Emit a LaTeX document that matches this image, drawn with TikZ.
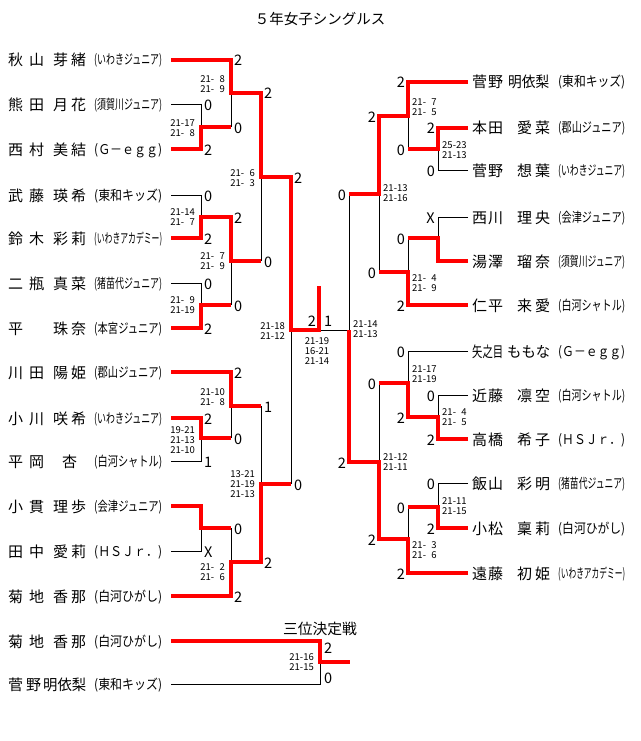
\documentclass[tikz,border=0pt]{standalone}
\usepackage{fontspec}
\setmainfont{Noto Sans CJK JP}
\usepackage{graphicx}
\newcommand\gs{\hphantom{0}}
\newcommand\lname[4]{\makebox[36pt][s]{#1\hfill#2}\hspace{9pt}\makebox[33pt][s]{#3\hfill#4}}
\newcommand\rname[4]{\makebox[31pt][s]{#1\hfill#2}\hspace{14pt}\makebox[33pt][s]{#3\hfill#4}}
\newcommand\lteam[1]{\resizebox{68pt}{\height}{#1}}
\newcommand\rteam[1]{\resizebox{67pt}{\height}{#1}}
\tikzset{
  win/.style={draw=red, line width=3.5pt},
  lose/.style={draw=black, line width=1pt},
  pname/.style={anchor=base west, inner sep=0, font=\fontsize{15}{15}\selectfont},
  team/.style={anchor=base west, inner sep=0, font=\fontsize{13.5}{14}\selectfont},
  lsc/.style={anchor=base west, inner sep=0, font=\fontsize{14.5}{15}\selectfont},
  rsc/.style={anchor=base east, inner sep=0, font=\fontsize{14.5}{15}\selectfont},
  lgame/.style={anchor=east, inner sep=0, align=right, font=\fontsize{9.5}{10}\selectfont},
  rgame/.style={anchor=west, inner sep=0, align=left, font=\fontsize{9.5}{10}\selectfont},
}
\begin{document}
\begin{tikzpicture}[x=1pt, y=-1pt]
    \fill[white] (0,0) rectangle (640,741);
    \useasboundingbox (0,0) rectangle (640,741);
    \node[anchor=base, inner sep=0, font=\fontsize{14.5}{15}\selectfont] (title) at (320,24.5) {５年女子シングルス};

    % left block
    \node[pname] (nl1) at (8,66) {\lname{秋}{山}{芽}{緒}};
    \node[team] (tl1) at (94,65) {\lteam{(いわきジュニア)}};
    \node[pname] (nl2) at (8,111) {\lname{熊}{田}{月}{花}};
    \node[team] (tl2) at (94,110) {\lteam{(須賀川ジュニア)}};
    \node[pname] (nl3) at (8,155) {\lname{西}{村}{美}{結}};
    \node[team] (tl3) at (94,154) {\lteam{(Ｇ－ｅｇｇ)}};
    \node[pname] (nl4) at (8,201) {\lname{武}{藤}{瑛}{希}};
    \node[team] (tl4) at (94,200) {\lteam{(東和キッズ)}};
    \node[pname] (nl5) at (8,244) {\lname{鈴}{木}{彩}{莉}};
    \node[team] (tl5) at (94,243) {\lteam{(いわきアカデミー)}};
    \node[pname] (nl6) at (8,289) {\lname{二}{瓶}{真}{菜}};
    \node[team] (tl6) at (94,288) {\lteam{(猪苗代ジュニア)}};
    \node[pname] (nl7) at (8,334) {\lname{平}{}{珠}{奈}};
    \node[team] (tl7) at (94,333) {\lteam{(本宮ジュニア)}};
    \node[pname] (nl8) at (8,378) {\lname{川}{田}{陽}{姫}};
    \node[team] (tl8) at (94,377) {\lteam{(郡山ジュニア)}};
    \node[pname] (nl9) at (8,424) {\lname{小}{川}{咲}{希}};
    \node[team] (tl9) at (94,423) {\lteam{(いわきジュニア)}};
    \node[pname] (nl10) at (8,467) {\lname{平}{岡}{\hfill{}杏}{}};
    \node[team] (tl10) at (94,466) {\lteam{(白河シャトル)}};
    \node[pname] (nl11) at (8,512) {\lname{小}{貫}{理}{歩}};
    \node[team] (tl11) at (94,511) {\lteam{(会津ジュニア)}};
    \node[pname] (nl12) at (8,557) {\lname{田}{中}{愛}{莉}};
    \node[team] (tl12) at (94,556) {\lteam{(ＨＳＪｒ．)}};
    \node[pname] (nl13) at (8,602) {\lname{菊}{地}{香}{那}};
    \node[team] (tl13) at (94,601) {\lteam{(白河ひがし)}};

    % right block
    \node[pname] (nr1) at (472,88) {\makebox[31pt][s]{菅\hfill{}野}\hspace{5pt}\resizebox{41pt}{\height}{明依梨}};
    \node[team] (tr1) at (558,87) {\rteam{(東和キッズ)}};
    \node[pname] (nr2) at (472,134) {\rname{本}{田}{愛}{菜}};
    \node[team] (tr2) at (558,133) {\rteam{(郡山ジュニア)}};
    \node[pname] (nr3) at (472,176) {\rname{菅}{野}{想}{葉}};
    \node[team] (tr3) at (558,175) {\rteam{(いわきジュニア)}};
    \node[pname] (nr4) at (472,223) {\rname{西}{川}{理}{央}};
    \node[team] (tr4) at (558,222) {\rteam{(会津ジュニア)}};
    \node[pname] (nr5) at (472,267) {\rname{湯}{澤}{瑠}{奈}};
    \node[team] (tr5) at (558,266) {\rteam{(須賀川ジュニア)}};
    \node[pname] (nr6) at (472,311) {\rname{仁}{平}{来}{愛}};
    \node[team] (tr6) at (558,310) {\rteam{(白河シャトル)}};
    \node[pname] (nr7) at (472,357) {\resizebox{31pt}{\height}{矢之目}\hspace{4pt}\resizebox{43pt}{\height}{ももな}};
    \node[team] (tr7) at (558,356) {\rteam{(Ｇ－ｅｇｇ)}};
    \node[pname] (nr8) at (472,401) {\rname{近}{藤}{凛}{空}};
    \node[team] (tr8) at (558,400) {\rteam{(白河シャトル)}};
    \node[pname] (nr9) at (472,445) {\rname{高}{橋}{希}{子}};
    \node[team] (tr9) at (558,444) {\rteam{(ＨＳＪｒ．)}};
    \node[pname] (nr10) at (472,489) {\rname{飯}{山}{彩}{明}};
    \node[team] (tr10) at (558,488) {\rteam{(猪苗代ジュニア)}};
    \node[pname] (nr11) at (472,534) {\rname{小}{松}{稟}{莉}};
    \node[team] (tr11) at (558,533) {\rteam{(白河ひがし)}};
    \node[pname] (nr12) at (472,579) {\rname{遠}{藤}{初}{姫}};
    \node[team] (tr12) at (558,578) {\rteam{(いわきアカデミー)}};

    % third place
    \node[anchor=base, inner sep=0, font=\fontsize{14.8}{15}\selectfont] (third) at (320,634.5) {三位決定戦};
    \node[pname] (nt1) at (8,647) {\lname{菊}{地}{香}{那}};
    \node[team] (tt1) at (94,646) {\lteam{(白河ひがし)}};
    \node[pname] (nt2) at (8,690) {\makebox[33pt][s]{菅\hfill{}野}\hspace{2pt}\resizebox{43pt}{\height}{明依梨}};
    \node[team] (tt2) at (94,689) {\lteam{(東和キッズ)}};

    % losers
    \draw[lose] (171,105) -- (201,105) -- (201,127);
    \draw[lose] (231,93) -- (231,127);
    \draw[lose] (171,195) -- (201,195) -- (201,217);
    \draw[lose] (171,283) -- (201,283) -- (201,305);
    \draw[lose] (231,261) -- (231,305);
    \draw[lose] (261,177) -- (261,261);
    \draw[lose] (171,461) -- (201,461) -- (201,438);
    \draw[lose] (231,406) -- (231,438);
    \draw[lose] (171,551) -- (201,551) -- (201,528);
    \draw[lose] (231,528) -- (231,562);
    \draw[lose] (261,406) -- (261,484);
    \draw[lose] (291,330) -- (291,484);
    \draw[lose] (319,330) -- (349,330);
    \draw[lose] (468,170) -- (438,170) -- (438,149);
    \draw[lose] (408,116) -- (408,149);
    \draw[lose] (468,217) -- (438,217) -- (438,238);
    \draw[lose] (408,238) -- (408,272);
    \draw[lose] (379,194) -- (379,272);
    \draw[lose] (468,351) -- (408,351) -- (408,383);
    \draw[lose] (468,395) -- (438,395) -- (438,417);
    \draw[lose] (468,483) -- (438,483) -- (438,507);
    \draw[lose] (408,507) -- (408,539);
    \draw[lose] (379,383) -- (379,462);
    \draw[lose] (349,194) -- (349,330);
    \draw[lose] (171,684) -- (320,684) -- (320,662);

    % winners
    \draw[win] (171,60) -- (231,60) -- (231,93) -- (261,93) -- (261,177) -- (291,177) -- (291,330) -- (319,330) -- (319,286);
    \draw[win] (171,149) -- (201,149) -- (201,127) -- (231,127);
    \draw[win] (171,238) -- (201,238) -- (201,217) -- (231,217) -- (231,261) -- (261,261);
    \draw[win] (171,328) -- (201,328) -- (201,305) -- (231,305);
    \draw[win] (171,372) -- (231,372) -- (231,406) -- (261,406);
    \draw[win] (171,418) -- (201,418) -- (201,438) -- (231,438);
    \draw[win] (171,506) -- (201,506) -- (201,528) -- (231,528);
    \draw[win] (171,596) -- (231,596) -- (231,562) -- (261,562) -- (261,484) -- (291,484);
    \draw[win] (468,82) -- (408,82) -- (408,116) -- (379,116) -- (379,194) -- (349,194);
    \draw[win] (468,128) -- (438,128) -- (438,149) -- (408,149);
    \draw[win] (468,261) -- (438,261) -- (438,238) -- (408,238);
    \draw[win] (468,305) -- (408,305) -- (408,272) -- (379,272);
    \draw[win] (468,439) -- (438,439) -- (438,417) -- (408,417) -- (408,383) -- (379,383);
    \draw[win] (468,528) -- (438,528) -- (438,507) -- (408,507);
    \draw[win] (468,573) -- (408,573) -- (408,539) -- (379,539) -- (379,462) -- (349,462) -- (349,330);
    \draw[win] (171,641) -- (320,641) -- (320,662) -- (350,662);

    % points, left
    \node[lsc] (a1) at (204,111) {0}; \node[lsc] (a2) at (204,155) {2};
    \node[lsc] (a3) at (204,201) {0}; \node[lsc] (a4) at (204,244) {2};
    \node[lsc] (a5) at (204,289) {0}; \node[lsc] (a6) at (204,334) {2};
    \node[lsc] (a7) at (204,424) {2}; \node[lsc] (a8) at (204,467) {1};
    \node[lsc] (a9) at (204,557) {X};
    \node[lsc] (b1) at (234,66) {2}; \node[lsc] (b2) at (234,133) {0};
    \node[lsc] (b3) at (234,223) {2}; \node[lsc] (b4) at (234,311) {0};
    \node[lsc] (b5) at (234,378) {2}; \node[lsc] (b6) at (234,444) {0};
    \node[lsc] (b7) at (234,534) {0}; \node[lsc] (b8) at (234,602) {2};
    \node[lsc] (c1) at (264,99) {2}; \node[lsc] (c2) at (264,267) {0};
    \node[lsc] (c3) at (264,412) {1}; \node[lsc] (c4) at (264,568) {2};
    \node[lsc] (d1) at (294,183) {2}; \node[lsc] (d2) at (294,490) {0};
    % points, right
    \node[rsc] (e1) at (435,134) {2}; \node[rsc] (e2) at (435,176) {0};
    \node[rsc] (e3) at (435,223) {X}; \node[rsc] (e4) at (435,401) {0};
    \node[rsc] (e5) at (435,445) {2}; \node[rsc] (e6) at (435,489) {0};
    \node[rsc] (e7) at (435,534) {2};
    \node[rsc] (f1) at (405,88) {2}; \node[rsc] (f2) at (405,155) {0};
    \node[rsc] (f3) at (405,244) {0}; \node[rsc] (f4) at (405,311) {2};
    \node[rsc] (f5) at (405,357) {0}; \node[rsc] (f6) at (405,423) {2};
    \node[rsc] (f7) at (405,513) {0}; \node[rsc] (f8) at (405,579) {2};
    \node[rsc] (g1) at (376,122) {2}; \node[rsc] (g2) at (376,278) {0};
    \node[rsc] (g3) at (376,389) {0}; \node[rsc] (g4) at (376,545) {2};
    \node[rsc] (h1) at (346,200) {0}; \node[rsc] (h2) at (346,468) {2};
    % final and third place
    \node[rsc] (fin1) at (316,326) {2}; \node[lsc] (fin2) at (324,326) {1};
    \node[lsc] (thr1) at (324,653) {2}; \node[lsc] (thr2) at (324,683) {0};

    % games
    \node[lgame] (ga1) at (195,128) {21-17\\21-\gs8};
    \node[lgame] (ga2) at (195,217) {21-14\\21-\gs7};
    \node[lgame] (ga3) at (195,305.5) {21-\gs9\\21-19};
    \node[lgame] (ga4) at (195,440) {19-21\\21-13\\21-10};
    \node[lgame] (gb1) at (225,84) {21-\gs8\\21-\gs9};
    \node[lgame] (gb2) at (225,261.5) {21-\gs7\\21-\gs9};
    \node[lgame] (gb3) at (225,397) {21-10\\21-\gs8};
    \node[lgame] (gb4) at (225,572.5) {21-\gs2\\21-\gs6};
    \node[lgame] (gc1) at (255,178) {21-\gs6\\21-\gs3};
    \node[lgame] (gc2) at (255,484) {13-21\\21-19\\21-13};
    \node[lgame] (gd1) at (285,331.5) {21-18\\21-12};
    \node[rgame] (ge1) at (442,150) {25-23\\21-13};
    \node[rgame] (ge2) at (442,417.5) {21-\gs4\\21-\gs5};
    \node[rgame] (ge3) at (442,506.5) {21-11\\21-15};
    \node[rgame] (gf1) at (412,107) {21-\gs7\\21-\gs5};
    \node[rgame] (gf2) at (412,283) {21-\gs4\\21-\gs9};
    \node[rgame] (gf3) at (412,374) {21-17\\21-19};
    \node[rgame] (gf4) at (412,550.5) {21-\gs3\\21-\gs6};
    \node[rgame] (gg1) at (383,193) {21-13\\21-16};
    \node[rgame] (gg2) at (383,462) {21-12\\21-11};
    \node[rgame] (gh1) at (353,329) {21-14\\21-13};
    \node[lgame, anchor=center, align=center] (gfin) at (317,351) {21-19\\16-21\\21-14};
    \node[lgame] (gthr) at (314,662.5) {21-16\\21-15};
\end{tikzpicture}
\end{document}
